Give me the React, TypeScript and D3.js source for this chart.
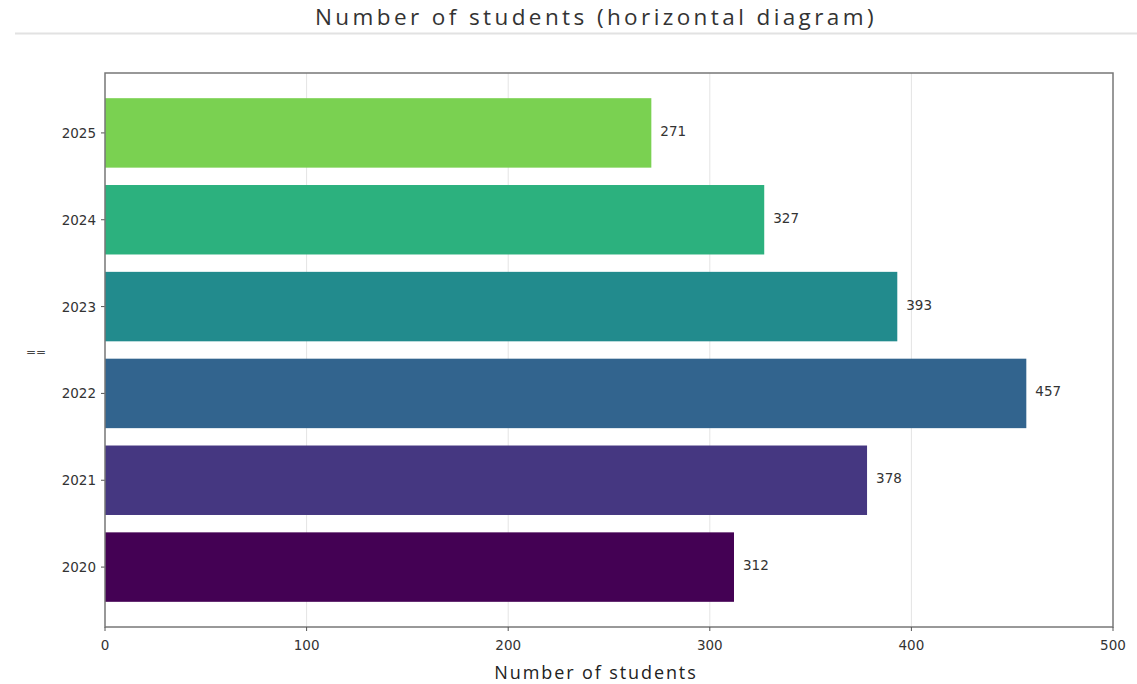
import React from "react";
import * as d3 from "d3";

const years = ["2020", "2021", "2022", "2023", "2024", "2025"];
const students = [312, 378, 457, 393, 327, 271];
const xTicks = [0, 100, 200, 300, 400, 500];
const title = "Number of students (horizontal diagram)";
const xLabel = "Number of students";
const yLabel = "==";

const W = 1137;
const H = 684;
const left = 105;
const right = 1113;
const top = 73;
const bottom = 627;

export default function App() {
  const x = d3.scaleLinear().domain([0, 500]).range([left, right]);
  const y = d3.scaleLinear().domain([-0.69, years.length - 1 + 0.69]).range([bottom, top]);
  const barH = Math.abs(y(0.4) - y(-0.4));
  const colorT = d3.range(years.length).map((i) => (0.8 * i) / (years.length - 1));
  const tickFont = "'DejaVu Sans', sans-serif";
  const fs = 13.5;
  return (
    <svg width={W} height={H} style={{ position: "absolute", left: 0, top: 0, background: "#fff" }}>
      <rect x={0} y={0} width={W} height={H} fill="#fff" />
      <line x1={15} x2={W} y1={33.5} y2={33.5} stroke="#e2e2e2" strokeWidth={2} />
      <text x={596} y={25} textAnchor="middle" fontFamily="'Open Sans', sans-serif" fontSize={22.5} fill="#333" letterSpacing={3.4}>
        {title}
      </text>
      {xTicks.slice(1, -1).map((t) => (
        <line key={"g" + t} x1={x(t)} x2={x(t)} y1={top} y2={bottom} stroke="#e4e4e4" strokeWidth={1} />
      ))}
      {students.map((v, i) => (
        <g key={years[i]}>
          <rect x={x(0)} y={y(i) - barH / 2} width={x(v) - x(0)} height={barH} fill={d3.interpolateViridis(colorT[i])} />
          <text x={x(v) + 9} y={y(i) - 2} dominantBaseline="central" fontFamily={tickFont} fontSize={fs} fill="#333">
            {v}
          </text>
          <line x1={left - 4} x2={left} y1={y(i)} y2={y(i)} stroke="#555" />
          <text x={left - 9} y={y(i)} textAnchor="end" dominantBaseline="central" fontFamily={tickFont} fontSize={fs} fill="#333">
            {years[i]}
          </text>
        </g>
      ))}
      <rect x={left} y={top} width={right - left} height={bottom - top} fill="none" stroke="#777" strokeWidth={1.5} />
      {xTicks.map((t) => (
        <g key={"t" + t}>
          <line x1={x(t)} x2={x(t)} y1={bottom} y2={bottom + 4} stroke="#555" />
          <text x={x(t)} y={bottom + 18} textAnchor="middle" dominantBaseline="central" fontFamily={tickFont} fontSize={fs} fill="#333">
            {t}
          </text>
        </g>
      ))}
      <text x={596} y={679} textAnchor="middle" fontFamily="'Open Sans', sans-serif" fontSize={18} fill="#222" letterSpacing={1.9}>
        {xLabel}
      </text>
      <text x={36} y={352} textAnchor="middle" dominantBaseline="central" fontFamily={tickFont} fontSize={12} fill="#444">
        {yLabel}
      </text>
    </svg>
  );
}
